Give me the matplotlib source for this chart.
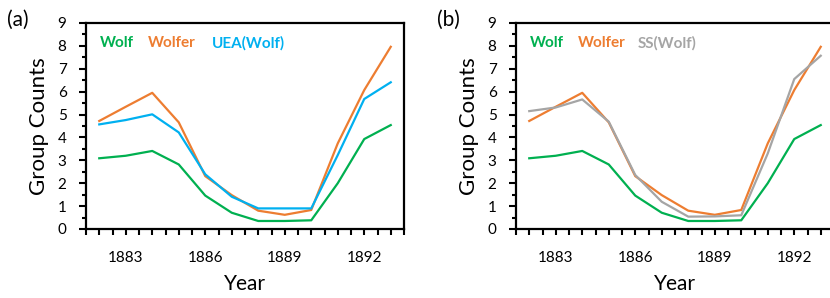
import matplotlib
matplotlib.use("Agg")
import matplotlib.pyplot as plt
from matplotlib.ticker import MultipleLocator, FixedLocator

plt.rcParams['font.family'] = ['Lato', 'DejaVu Sans']

years = list(range(1882, 1894))
wolf = [3.09, 3.2, 3.41, 2.82, 1.46, 0.71, 0.35, 0.35, 0.38, 2.0, 3.93, 4.54]
wolfer = [4.72, 5.34, 5.95, 4.66, 2.31, 1.48, 0.8, 0.62, 0.83, 3.74, 6.07, 7.96]
uea_wolf = [4.57, 4.76, 5.01, 4.22, 2.39, 1.41, 0.9, 0.9, 0.9, 3.23, 5.68, 6.41]
ss_wolf = [5.15, 5.31, 5.66, 4.69, 2.36, 1.19, 0.54, 0.55, 0.6, 3.3, 6.55, 7.57]
year_labels = [1883, 1886, 1889, 1892]

c_wolf = '#00B050'
c_wolfer = '#ED7D31'
c_uea = '#00B0F0'
c_ss = '#A5A5A5'

fig = plt.figure(figsize=(8.3, 2.98), dpi=100)
W, H = 830, 298

third_lbl = {'(a)': 'UEA(Wolf)', '(b)': 'SS(Wolf)'}

def make_axes(left_px, panel, third, third_col, third_x):
    ax = fig.add_axes([left_px / W, 1 - 229 / H, 318 / W, 206 / H])
    ax.plot(years, wolf, color=c_wolf, lw=1.6)
    ax.plot(years, wolfer, color=c_wolfer, lw=1.6)
    ax.plot(years, third, color=third_col, lw=1.6)
    ax.set_xlim(1881.5, 1893.5)
    ax.set_ylim(0, 9)
    ax.xaxis.set_major_locator(FixedLocator(year_labels))
    ax.xaxis.set_minor_locator(MultipleLocator(0.5))
    ax.yaxis.set_major_locator(MultipleLocator(1))
    ax.yaxis.set_minor_locator(MultipleLocator(0.5))
    ax.tick_params(axis='x', which='both', direction='out', length=4, width=1.5, pad=12, labelsize=11)
    ax.tick_params(axis='y', which='major', direction='out', length=5, width=1.5, pad=9, labelsize=11)
    ax.tick_params(axis='y', which='minor', direction='out', length=3, width=1.5)
    for s in ax.spines.values():
        s.set_linewidth(1.6)
    ax.set_xlabel('Year', fontsize=15, labelpad=6)
    ax.set_ylabel('Group Counts', fontsize=16, labelpad=6)
    fig.text((left_px - 79) / W, 1 - 20 / H, panel, fontsize=15, va='center', ha='left')
    ty = 1 - 43 / H
    fig.text((left_px + 14) / W, ty, 'Wolf', color=c_wolf, fontsize=11, fontweight='bold', va='center')
    fig.text((left_px + 62) / W, ty, 'Wolfer', color=c_wolfer, fontsize=11, fontweight='bold', va='center')
    fig.text((left_px + third_x) / W, ty, third_lbl[panel], color=third_col, fontsize=11,
             fontweight='bold', va='center')
    return ax

make_axes(86, '(a)', uea_wolf, c_uea, 126)
make_axes(516, '(b)', ss_wolf, c_ss, 122)

fig.savefig('out.png', dpi=100)
